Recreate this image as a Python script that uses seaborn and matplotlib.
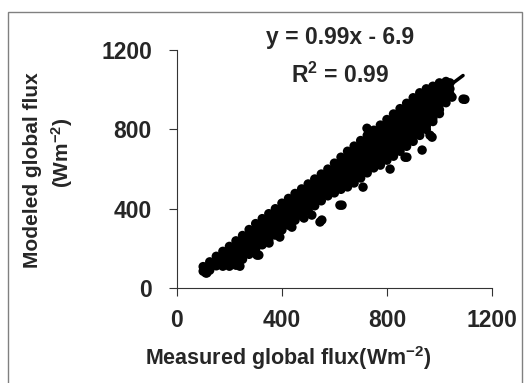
import matplotlib
matplotlib.use("Agg")
import matplotlib.pyplot as plt
import matplotlib.patches as patches
import pandas as pd
import seaborn as sns

# === data ===
# measured flux columns and the modeled values seen in each column
measured_cols = [100, 110, 125, 150, 175, 200, 225, 250, 275, 300, 325, 350, 375, 400,
                 425, 450, 475, 500, 525, 550, 575, 600, 625, 650, 675, 700, 725, 750,
                 775, 800, 825, 850, 875, 900, 925, 950, 975, 1000, 1025, 1040]
modeled_cols = [
    [108, 85],
    [100, 76],
    [132, 108, 90],
    [160, 135, 112],
    [185, 160, 135, 110],
    [210, 185, 160, 135, 110],
    [238, 212, 186, 160, 134, 115],
    [265, 240, 215, 190, 165, 145],
    [295, 270, 245, 220, 195, 170],
    [325, 298, 271, 244, 217, 195],
    [350, 323, 296, 269, 242, 218],
    [375, 348, 321, 294, 267, 242],
    [400, 373, 346, 319, 292, 267],
    [428, 401, 374, 347, 320, 293],
    [452, 425, 398, 371, 344, 317],
    [477, 450, 423, 396, 369, 342],
    [500, 473, 446, 419, 392, 365],
    [525, 498, 471, 444, 417, 390],
    [550, 523, 496, 469, 442, 415],
    [575, 548, 521, 494, 467, 440],
    [600, 573, 546, 519, 492, 465],
    [630, 603, 576, 549, 522, 495, 480],
    [660, 633, 606, 579, 552, 525, 498],
    [690, 663, 636, 609, 582, 555, 528, 510],
    [716, 689, 662, 635, 608, 581, 554, 530],
    [744, 717, 690, 663, 636, 609, 582, 555],
    [770, 743, 716, 689, 662, 635, 608, 581],
    [796, 769, 742, 715, 688, 661, 634, 606],
    [822, 795, 768, 741, 714, 687, 660, 633, 620],
    [850, 823, 796, 769, 742, 715, 688, 661, 645],
    [878, 851, 824, 797, 770, 743, 716, 689, 665],
    [905, 878, 851, 824, 797, 770, 743, 716, 690],
    [932, 905, 878, 851, 824, 797, 770, 743, 715],
    [960, 933, 906, 879, 852, 825, 798, 771, 740],
    [985, 958, 931, 904, 877, 850, 823, 796, 770],
    [1005, 978, 951, 924, 897, 870, 843, 816, 800],
    [1018, 991, 964, 937, 910, 883, 856, 840],
    [1035, 1008, 981, 954, 927, 900, 880],
    [1042, 1015, 988, 961, 935],
    [1035, 1005, 978],
]
# scattered points off the main band
outlier_x = [114, 240, 305, 312, 351, 392, 438, 484, 514, 545, 552, 621, 629, 651,
             709, 724, 812, 869, 876, 934, 964, 972, 1048, 1090, 1097]
outlier_y = [76, 110, 166, 166, 227, 257, 307, 353, 368, 333, 343, 418, 418, 544,
             509, 806, 600, 660, 660, 696, 771, 761, 963, 953, 952]

fit_slope = 0.99
fit_intercept = -6.9
fit_range = [95, 1090]

rows = []
for mx, ys in zip(measured_cols, modeled_cols):
    for my in ys:
        rows.append((mx, my))
rows += list(zip(outlier_x, outlier_y))
df = pd.DataFrame(rows, columns=["measured", "modeled"])

# === plotting ===
sns.set_style("ticks")
plt.rcParams["font.family"] = ["Liberation Sans", "DejaVu Sans"]
plt.rcParams["font.weight"] = "bold"
plt.rcParams["mathtext.fontset"] = "custom"
plt.rcParams["mathtext.rm"] = "Liberation Sans:bold"
plt.rcParams["mathtext.bf"] = "Liberation Sans:bold"
plt.rcParams["mathtext.default"] = "bf"

fig = plt.figure(figsize=(5.25, 3.83), dpi=100)
ax = fig.add_axes([0.337, 0.248, 0.600, 0.621])

sns.scatterplot(data=df, x="measured", y="modeled", color="black", s=46,
                edgecolor="none", linewidth=0, ax=ax, legend=False)
ax.plot(fit_range, [fit_slope * v + fit_intercept for v in fit_range],
        color="black", linewidth=2.5)

ax.set_xlim(0, 1200)
ax.set_ylim(0, 1200)
ax.set_xticks([0, 400, 800, 1200])
ax.set_yticks([0, 400, 800, 1200])
ax.tick_params(axis="both", labelsize=16.5, length=6, width=0.8, color="#333333")
ax.tick_params(axis="x", pad=9)
ax.tick_params(axis="y", pad=12)
for lab in ax.get_xticklabels() + ax.get_yticklabels():
    lab.set_fontweight("bold")
sns.despine(ax=ax)
for sp in ["left", "bottom"]:
    ax.spines[sp].set_linewidth(0.8)
    ax.spines[sp].set_color("#333333")

ax.set_xlabel("Measured global flux(Wm$^{-2}$)", fontsize=15.5, fontweight="bold")
ax.xaxis.set_label_coords(0.352, -0.235)
ax.xaxis.label.set_va("top")
ax.set_ylabel("")
fig.text(33 / 525, 1 - 170 / 383, "Modeled global flux", rotation=90,
         ha="center", va="center", fontsize=15, fontweight="bold")
fig.text(62 / 525, 1 - 153 / 383, "(Wm$^{-2}$)", rotation=90,
         ha="center", va="center", fontsize=15, fontweight="bold")

ax.text(0.517, 1.055, "y = 0.99x - 6.9", transform=ax.transAxes, ha="center",
        va="center", fontsize=16.5, fontweight="bold")
ax.text(0.517, 0.895, "R$^2$ = 0.99", transform=ax.transAxes, ha="center",
        va="center", fontsize=16.5, fontweight="bold")

# thin frame round the whole chart
fig.patches.append(patches.Rectangle((8 / 525, -0.01), 514 / 525, 1 - 12 / 383 + 0.01,
                                     transform=fig.transFigure, fill=False,
                                     edgecolor="#808080", linewidth=1))

fig.savefig("out.png", dpi=100)
